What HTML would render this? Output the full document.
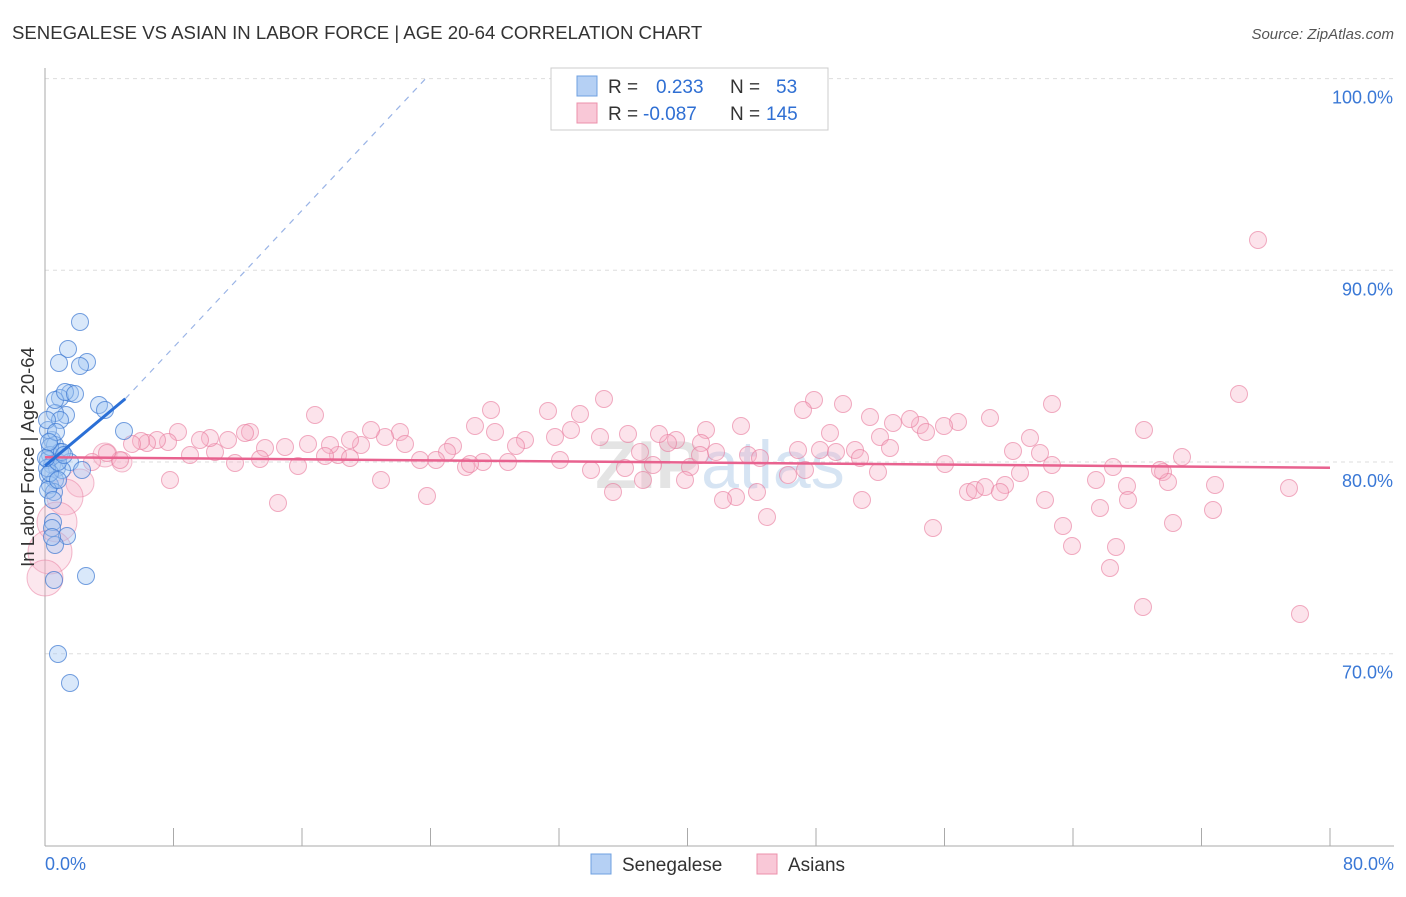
<!DOCTYPE html>
<html><head><meta charset="utf-8"><style>
body{margin:0;background:#fff;font-family:"Liberation Sans",sans-serif}
svg text{font-family:"Liberation Sans",sans-serif}
</style></head><body>
<svg id="c" width="1406" height="892">
<text x="12" y="39" font-size="18.6" fill="#333">SENEGALESE VS ASIAN IN LABOR FORCE | AGE 20-64 CORRELATION CHART</text>
<text x="1394" y="39" font-size="15" fill="#555" font-style="italic" text-anchor="end">Source: ZipAtlas.com</text>
<text x="720" y="488" font-size="68" fill="#e4e4e4" text-anchor="middle" font-weight="bold">ZIP<tspan fill="#d6e4f3" font-weight="normal">atlas</tspan></text>
<g id="grid"></g><g id="axes"></g><g id="pink"></g><g id="blue"></g><g id="lines"></g>
<text transform="translate(34,457) rotate(-90)" font-size="18.5" fill="#333" text-anchor="middle">In Labor Force | Age 20-64</text>
<text x="45" y="870" font-size="18" fill="#3a78d6">0.0%</text>
<text x="1394" y="870" font-size="18" fill="#3a78d6" text-anchor="end">80.0%</text>
<g>
<rect x="551" y="68" width="277" height="62" fill="#fff" stroke="#ccc"/>
<rect x="577" y="76" width="20" height="20" fill="#b5d0f4" stroke="#6fa0e0"/>
<rect x="577" y="103" width="20" height="20" fill="#f9c8d7" stroke="#ec90ab"/>
<text x="608" y="93" font-size="19" fill="#333">R =</text><text x="656" y="93" font-size="19" fill="#2f6fd3">0.233</text>
<text x="730" y="93" font-size="19" fill="#333">N =</text><text x="776" y="93" font-size="19" fill="#2f6fd3">53</text>
<text x="608" y="120" font-size="19" fill="#333">R =</text><text x="643" y="120" font-size="19" fill="#2f6fd3">-0.087</text>
<text x="730" y="120" font-size="19" fill="#333">N =</text><text x="766" y="120" font-size="19" fill="#2f6fd3">145</text>
</g>
<g>
<rect x="591" y="854" width="20" height="20" fill="#b5d0f4" stroke="#6fa0e0"/>
<text x="622" y="871" font-size="19" fill="#333">Senegalese</text>
<rect x="757" y="854" width="20" height="20" fill="#f9c8d7" stroke="#ec90ab"/>
<text x="788" y="871" font-size="19" fill="#333">Asians</text>
</g>
</svg>
<script>
const yTicks=[100,90,80,70];
const xTicks=[0,8,16,24,32,40,48,56,64,72,80];
const bluePx=[[80,322],[68,349],[59,363],[87,362],[80,366],[70,393],[60,398],[66,415],[55,413],[60,420],[99,405],[105,410],[124,431],[52,440],[55,445],[60,452],[50,455],[48,460],[52,465],[57,468],[48,475],[55,480],[50,485],[70,462],[82,470],[54,492],[53,522],[52,528],[67,536],[55,545],[54,580],[86,576],[58,654],[70,683],[48,430],[50,447],[62,470],[47,468],[50,473],[58,462],[55,400],[65,392],[75,394],[52,537],[48,490],[62,452],[58,480],[47,420],[53,500],[64,455],[46,458],[56,432],[49,442]];
const pinkPx=[[1258,240],[1239,394],[1052,404],[1144,430],[1182,457],[1289,488],[1213,510],[1173,523],[1300,614],[1143,607],[1110,568],[1116,547],[1072,546],[1063,526],[1100,508],[1096,480],[1127,486],[1163,472],[1168,482],[1128,500],[1045,500],[1020,473],[1030,438],[1040,453],[1013,451],[990,418],[958,422],[944,426],[920,425],[910,419],[926,432],[893,423],[880,437],[870,417],[843,404],[814,400],[803,410],[830,433],[820,450],[855,450],[836,452],[805,470],[798,450],[788,475],[767,517],[736,497],[723,500],[757,492],[748,455],[741,426],[716,452],[706,430],[701,443],[690,467],[676,440],[668,443],[659,434],[653,465],[685,480],[643,480],[628,434],[613,492],[604,399],[600,437],[591,470],[580,414],[571,430],[548,411],[555,437],[525,440],[516,446],[508,462],[495,432],[491,410],[483,462],[475,426],[466,467],[453,446],[447,452],[436,460],[420,460],[427,496],[400,432],[405,444],[385,437],[381,480],[371,430],[361,445],[350,440],[338,455],[330,445],[325,456],[308,444],[298,466],[315,415],[285,447],[278,503],[265,448],[250,432],[260,459],[245,433],[235,463],[228,440],[215,452],[210,438],[200,440],[190,455],[178,432],[168,442],[157,440],[170,480],[147,443],[141,441],[132,444],[120,460],[107,453],[92,462],[862,500],[878,472],[933,528],[945,464],[968,492],[975,490],[985,487],[1005,485],[1000,492],[1160,470],[1215,485],[1113,467],[860,458],[560,460],[625,468],[470,464],[350,458],[700,455],[640,452],[760,458],[890,448],[1052,465]];
const pinkBigPx=[[80,483,14],[65,497,18],[57,522,20],[50,552,22],[45,578,18],[105,455,12],[122,462,10]];
const X=v=>45+v*16.0625, Y=v=>462-(v-80)*19.17;
const toData=p=>[(p[0]-45)/16.0625,80+(462-p[1])/19.17];
const blueData=bluePx.map(toData), pinkData=pinkPx.map(toData);
const pinkBig=pinkBigPx.map(p=>[...toData(p),p[2]]);
const blueTrend=[[0,79.8],[5,83.3]], blueDash=[[5,83.3],[23.7,100]];
const pinkTrend=[[0,80.25],[80,79.7]];
const NS='http://www.w3.org/2000/svg';
function mk(g,t,a){const e=document.createElementNS(NS,t);for(const k in a)e.setAttribute(k,a[k]);document.getElementById(g).appendChild(e);return e;}
yTicks.forEach(t=>{
const l=mk('grid','line',{x1:45,x2:1394,y1:Y(t),y2:Y(t),stroke:'#ddd','stroke-dasharray':'4,4'});


const tx=mk('grid','text',{x:1393,y:Y(t)+25,'font-size':18,fill:'#3a78d6','text-anchor':'end'});tx.textContent=t.toFixed(1)+'%';


});
mk('axes','line',{x1:45,x2:45,y1:68,y2:846,stroke:'#aaa'});
mk('axes','line',{x1:45,x2:1394,y1:846,y2:846,stroke:'#aaa'});
xTicks.forEach(t=>{const l=mk('axes','line',{x1:X(t),x2:X(t),y1:828,y2:846,stroke:'#aaa'});

});
function dot(g,d,r,fill,stroke,name){const c=mk(g,'circle',{cx:X(d[0]),cy:Y(d[1]),r:r,fill:fill,stroke:stroke,'stroke-width':1});

}
pinkBig.forEach(d=>dot('pink',d,d[2],'rgba(246,175,198,0.3)','rgba(232,120,155,0.5)','asian-point'));
pinkData.forEach(d=>dot('pink',d,8.5,'rgba(246,175,198,0.35)','rgba(232,120,155,0.6)','asian-point'));
blueData.forEach(d=>dot('blue',d,8.5,'rgba(160,198,242,0.4)','rgba(60,120,210,0.7)','senegalese-point'));
function ln(p,st,w,dash,name){const l=mk('lines','line',{x1:X(p[0][0]),y1:Y(p[0][1]),x2:X(p[1][0]),y2:Y(p[1][1]),stroke:st,'stroke-width':w});if(dash)l.setAttribute('stroke-dasharray',dash);

}
ln(pinkTrend,'#e8628f',2.5,null,'asian-trend-line');
ln(blueDash,'#9ab4e6',1.2,'6,6','senegalese-trend-extension');
ln(blueTrend,'#2a6fd6',3,null,'senegalese-trend-line');
</script>
</body></html>
